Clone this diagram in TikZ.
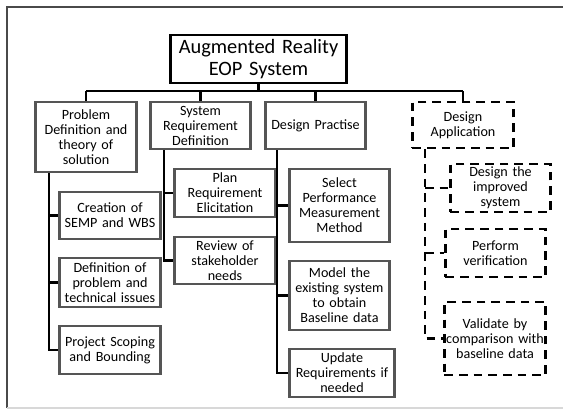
\documentclass[tikz,border=0pt]{standalone}
\usepackage{fontspec}
\setmainfont{Carlito}
\definecolor{boxgray}{HTML}{555555}
\definecolor{framegray}{HTML}{4A4A4A}
\definecolor{lightframe}{HTML}{D8D8D8}
\begin{document}
\begin{tikzpicture}[x=0.75pt,y=-0.75pt,
  bx/.style 2 args={minimum width=#1*0.75pt, minimum height=#2*0.75pt, text width=#1*0.75pt+4pt},
  box/.style={draw=boxgray, line width=1.8pt, inner sep=0pt, align=center,
    font=\fontsize{10.6}{11.25}\selectfont},
  dbox/.style={draw=black, line width=2.2pt, dash pattern=on 6.5pt off 4.5pt, inner sep=0pt, align=center,
    font=\fontsize{10.6}{11.25}\selectfont},
  topbox/.style={draw=black, line width=1.8pt, inner sep=0pt, align=center,
    font=\fontsize{15.3}{16.3}\selectfont},
  conn/.style={draw=black, line width=2pt},
  dconn/.style={draw=black, line width=2.2pt, dash pattern=on 6.5pt off 4.5pt}]
\useasboundingbox (0,0) rectangle (563,410);
% frame
\draw[framegray, line width=1pt] (563,7) -- (7,7) -- (7,408);
\draw[lightframe, line width=1pt] (7,408) -- (563,408);
% nodes
\node[topbox, bx={171}{48}] (top) at (258.5,59) {Augmented Reality\\EOP System};
\node[box, bx={96}{70}] (prob) at (86,137) {Problem\\Definition and\\theory of\\solution};
\node[box, bx={95}{47}] (sysreq) at (200.5,125.5) {System\\Requirement\\Definition};
\node[box, bx={95}{47}] (dp) at (315.5,125.5) {Design Practise};
\node[dbox, bx={96}{46}] (app) at (463,125) {Design\\Application};
\node[box, bx={96}{47}] (creation) at (110,215.5) {Creation of\\SEMP and WBS};
\node[box, bx={96}{49}] (defprob) at (110,282.5) {Definition of\\problem and\\technical issues};
\node[box, bx={96}{48}] (scope) at (110,350) {Project Scoping\\and Bounding};
\node[box, bx={96}{48}] (plan) at (225,193) {Plan\\Requirement\\Elicitation};
\node[box, bx={96}{47}] (review) at (225,260.5) {Review of\\stakeholder\\needs};
\node[box, bx={95}{73}] (select) at (339.5,205.5) {Select\\Performance\\Measurement\\Method};
\node[box, bx={95}{69}] (model) at (339.5,295.5) {Model the\\existing system\\to obtain\\Baseline data};
\node[box, bx={100}{48}] (update) at (342,373) {Update\\Requirements if\\needed};
\node[dbox, bx={95}{48}] (improved) at (500.5,188) {Design the\\improved\\system};
\node[dbox, bx={95}{48}] (verify) at (495.5,253) {Perform\\verification};
\node[dbox, bx={96}{73}] (validate) at (495,338.5) {Validate by\\comparison with\\baseline data};
% helper coordinates
\coordinate (bus) at (0,91);
\coordinate (spP) at (49,0);
\coordinate (spS) at (164,0);
\coordinate (spD) at (277,0);
\coordinate (spA) at (425,0);
% top level connectors
\draw[conn] (top.south) -- (top.south |- bus);
\draw[conn] (bus -| prob.north) -- (bus -| app.north);
\draw[conn] (bus -| prob.north) -- (prob.north);
\draw[conn] (bus -| sysreq.north) -- (sysreq.north);
\draw[conn] (bus -| dp.north) -- (dp.north);
\draw[conn] (bus -| app.north) -- (app.north);
% problem column
\draw[conn] (prob.south -| spP) |- (scope.west);
\draw[conn] (spP |- creation.west) -- (creation.west);
\draw[conn] (spP |- defprob.west) -- (defprob.west);
% sysreq column
\draw[conn] (sysreq.south -| spS) |- (review.west);
\draw[conn] (spS |- plan.west) -- (plan.west);
% design practise column
\draw[conn] (dp.south -| spD) |- (update.west);
\draw[conn] (spD |- select.west) -- (select.west);
\draw[conn] (spD |- model.west) -- (model.west);
% application column
\draw[dconn] (app.south -| spA) |- (validate.west);
\draw[dconn] (spA |- improved.west) -- (improved.west);
\draw[dconn] (spA |- verify.west) -- (verify.west);
\end{tikzpicture}
\end{document}
